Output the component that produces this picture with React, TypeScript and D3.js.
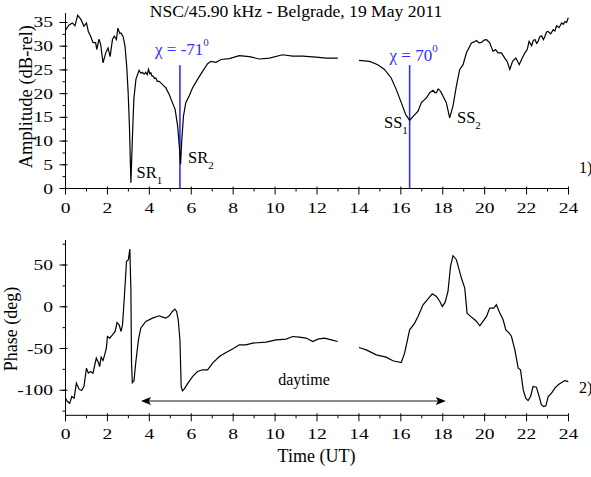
import React from "react";
import * as d3 from "d3";

// ---------- Data ----------
const ampHours1 = [0, 0.17, 0.33, 0.45, 0.58, 0.73, 0.88, 1.0, 1.09, 1.2, 1.31, 1.44, 1.49, 1.6, 1.68, 1.79, 1.92, 2.03, 2.13, 2.24, 2.33, 2.43, 2.5, 2.59, 2.65, 2.75, 2.84, 2.92, 2.99, 3.05, 3.12, 3.19, 3.26, 3.36, 3.51, 3.6, 3.67, 3.75, 3.83, 3.9, 3.96, 4.02, 4.07, 4.13, 4.18, 4.25, 4.31, 4.38, 4.47, 4.63, 4.79, 4.95, 5.1, 5.23, 5.35, 5.43, 5.49, 5.55, 5.63, 5.74, 5.9, 6.06, 6.3, 6.54, 6.78, 6.94, 7.18, 7.42, 7.82, 8.29, 8.77, 9.25, 9.73, 10.36, 10.84, 11.32, 11.96, 12.44, 12.99];
const ampValues1 = [33.4, 34.5, 34.9, 34.3, 36.5, 35.7, 34.2, 34.9, 33.1, 32.1, 30.8, 30.7, 29.3, 31.5, 30.3, 26.5, 28.6, 29.6, 27.8, 31.4, 32.1, 31.4, 33.8, 32.7, 32.8, 32.0, 30.0, 25.8, 20.2, 13.2, 1.2, 10.4, 18.8, 23.0, 24.9, 24.3, 24.5, 24.1, 24.5, 24.0, 25.1, 24.2, 24.4, 23.7, 23.7, 23.2, 23.3, 22.6, 22.6, 21.9, 21.2, 19.8, 18.1, 16.7, 13.2, 8.9, 5.1, 10.4, 15.3, 18.1, 19.5, 21.2, 23.0, 24.7, 26.3, 26.8, 26.6, 27.2, 27.4, 28.0, 27.8, 27.3, 27.5, 28.2, 27.9, 27.9, 27.7, 27.5, 27.5];

const ampHours2 = [14.0, 14.51, 14.9, 15.22, 15.54, 15.78, 16.02, 16.23, 16.42, 16.61, 16.82, 16.98, 17.22, 17.38, 17.54, 17.62, 17.7, 17.78, 17.86, 17.94, 18.01, 18.17, 18.33, 18.49, 18.65, 18.81, 18.97, 19.13, 19.37, 19.5, 19.61, 19.73, 19.85, 19.97, 20.09, 20.24, 20.4, 20.52, 20.64, 20.8, 20.96, 21.07, 21.2, 21.33, 21.49, 21.65, 21.76, 21.92, 22.03, 22.12, 22.24, 22.32, 22.4, 22.48, 22.55, 22.63, 22.72, 22.8, 22.87, 22.95, 23.03, 23.15, 23.27, 23.35, 23.43, 23.55, 23.67, 23.75, 23.83, 23.91, 23.99];
const ampValues2 = [27.0, 26.8, 26.1, 25.1, 23.3, 20.9, 18.1, 15.6, 14.4, 15.3, 16.3, 18.1, 19.1, 20.2, 20.7, 20.2, 20.2, 21.0, 20.7, 20.1, 19.5, 18.1, 14.9, 17.4, 21.6, 25.1, 26.1, 28.6, 30.7, 30.9, 31.2, 30.7, 30.8, 31.3, 31.4, 30.7, 28.9, 29.3, 28.6, 28.6, 27.5, 26.8, 25.1, 26.8, 27.5, 26.1, 27.2, 28.6, 29.3, 31.0, 30.1, 31.2, 31.4, 30.6, 31.0, 32.0, 32.2, 31.4, 32.0, 33.0, 33.1, 32.6, 33.5, 33.2, 34.3, 33.9, 34.9, 34.6, 35.2, 35.0, 36.0];

const phaseHours1 = [0, 0.09, 0.2, 0.3, 0.41, 0.52, 0.65, 0.77, 0.88, 1.0, 1.09, 1.2, 1.31, 1.47, 1.57, 1.63, 1.7, 1.79, 1.89, 1.95, 2.0, 2.11, 2.24, 2.37, 2.46, 2.56, 2.65, 2.72, 2.81, 2.91, 3.0, 3.07, 3.12, 3.15, 3.19, 3.27, 3.35, 3.48, 3.59, 3.83, 4.15, 4.47, 4.63, 4.79, 4.95, 5.1, 5.22, 5.3, 5.38, 5.46, 5.52, 5.58, 5.66, 5.82, 6.06, 6.3, 6.54, 6.78, 7.02, 7.34, 7.66, 7.97, 8.29, 8.61, 8.93, 9.57, 10.05, 10.53, 10.84, 11.16, 11.48, 11.8, 12.04, 12.36, 12.68, 12.99];
const phaseValues1 = [-109.5, -113.5, -115.5, -107.5, -109.5, -91.5, -98.7, -100.3, -95.5, -73.5, -79.5, -77.5, -79.5, -61.5, -66.8, -71.6, -60.3, -64.4, -55.5, -49.5, -35.6, -37.5, -33.6, -29.6, -18.8, -21.6, -29.6, -21.6, 12.4, 54.3, 56.4, 69.2, 20.4, -67.5, -90.8, -88.4, -67.5, -39.6, -25.6, -17.6, -13.6, -10.8, -12.4, -13.6, -10.8, -5.6, -2.8, -5.6, -15.6, -39.6, -95.5, -100.7, -98.7, -92.3, -83.6, -77.6, -75.5, -75.5, -67.5, -59.6, -54.8, -50.7, -45.6, -45.6, -43.5, -42.3, -39.6, -38.7, -35.6, -36.3, -37.5, -41.6, -38.7, -37.5, -39.6, -41.6];

const phaseHours2 = [14.0, 14.35, 14.83, 15.3, 15.62, 16.02, 16.18, 16.42, 16.66, 16.82, 17.06, 17.29, 17.5, 17.7, 17.86, 17.98, 18.11, 18.25, 18.37, 18.49, 18.65, 18.89, 19.05, 19.16, 19.37, 19.53, 19.61, 19.77, 19.92, 20.09, 20.24, 20.43, 20.56, 20.69, 20.88, 21.01, 21.17, 21.28, 21.44, 21.6, 21.71, 21.84, 21.96, 22.07, 22.19, 22.31, 22.47, 22.6, 22.71, 22.82, 22.92, 23.03, 23.19, 23.35, 23.51, 23.67, 23.83, 23.99];
const phaseValues2 = [-48.8, -51.6, -57.6, -60.3, -64.7, -66.8, -55.5, -27.6, -19.6, -11.6, 2.4, 9.2, 15.6, 12.4, 6.4, 0.4, 5.2, 18.3, 48.3, 61.2, 56.4, 34.4, 22.4, -7.6, -12.4, -15.6, -17.6, -22.8, -17.6, -11.6, -1.6, -1.6, 2.4, -5.6, -15.6, -27.6, -31.6, -35.6, -51.6, -73.5, -75.5, -99.5, -109.5, -112.4, -107.5, -95.5, -96.3, -107.5, -117.5, -119.5, -118.7, -107.5, -103.5, -97.5, -93.5, -90.8, -88.4, -89.6];

const xTicks = [0, 2, 4, 6, 8, 10, 12, 14, 16, 18, 20, 22, 24];
const ampTicks = [0, 5, 10, 15, 20, 25, 30, 35];
const phaseTicks = [-100, -50, 0, 50];

const markerHours = [5.46, 16.42];
const markerTop = 26;
const markerLabels = ["-71", "70"];

const daytimeStart = 3.6;
const daytimeEnd = 18.15;

// ---------- Layout ----------
const X0 = 65.5, X1 = 568.5;
const x = d3.scaleLinear().domain([0, 24]).range([X0, X1]);
const yA = d3.scaleLinear().domain([0, 37]).range([188.5, 13]);
const yP = d3.scaleLinear().domain([-130, 80]).range([415.3, 240]);

const FONT = "'Liberation Serif', 'Times New Roman', serif";
const BLUE = "#2f2fff";

function zip(h: number[], v: number[]) {
  return h.map((t, i) => [t, v[i]] as [number, number]);
}

function TickLabel({ tx, ty, anchor, text }: { tx: number; ty: number; anchor: string; text: string }) {
  return (
    <text transform={`translate(${tx},${ty}) scale(1.3,1)`} textAnchor={anchor} fontSize={15} fontFamily={FONT} fill="#000">
      {text}
    </text>
  );
}

function Axes({ y, ticks, minorStep, baseY }: { y: d3.ScaleLinear<number, number>; ticks: number[]; minorStep: number; baseY: number }) {
  const [d0, d1] = y.domain();
  const minors: number[] = [];
  for (let v = Math.ceil(d0 / minorStep) * minorStep; v <= d1 + 1e-9; v += minorStep) minors.push(v);
  const xMinor = d3.range(0, 25, 1);
  return (
    <g stroke="#000" strokeWidth={1}>
      <line x1={X0} x2={X0} y1={y.range()[0]} y2={y.range()[1]} />
      <line x1={X0} x2={X1} y1={baseY} y2={baseY} />
      {minors.map((v) => (
        <line key={"ym" + v} x1={X0 - 3} x2={X0} y1={y(v)} y2={y(v)} />
      ))}
      {ticks.map((v) => (
        <line key={"yt" + v} x1={X0 - 6} x2={X0 + 2} y1={y(v)} y2={y(v)} />
      ))}
      {xMinor.map((v) => (
        <line key={"xm" + v} x1={x(v)} x2={x(v)} y1={baseY} y2={baseY + (v % 2 === 0 ? 6 : 3)} />
      ))}
      {xTicks.map((v) => (
        <line key={"xt" + v} x1={x(v)} x2={x(v)} y1={baseY - 2} y2={baseY} />
      ))}
    </g>
  );
}

export default function App() {
  const lineA = d3.line<[number, number]>().x((d) => x(d[0])).y((d) => yA(d[1]));
  const lineP = d3.line<[number, number]>().x((d) => x(d[0])).y((d) => yP(d[1]));
  const baseA = yA(0);
  const baseP = yP(-130);
  const arrowY = 401;
  const ax0 = x(daytimeStart), ax1 = x(daytimeEnd);

  return (
    <svg width={591} height={477} style={{ position: "absolute", left: 0, top: 0 }}>
      <rect width={591} height={477} fill="#fff" />
      {/* title */}
      <text x={296} y={16.5} textAnchor="middle" fontSize={17.6} fontFamily={FONT}>
        NSC/45.90 kHz - Belgrade, 19 May 2011
      </text>

      {/* top panel */}
      <Axes y={yA} ticks={ampTicks} minorStep={2.5} baseY={baseA} />
      {ampTicks.map((v) => (
        <TickLabel key={"al" + v} tx={53} ty={yA(v) + 5} anchor="end" text={String(v)} />
      ))}
      {xTicks.map((v) => (
        <TickLabel key={"axl" + v} tx={x(v)} ty={baseA + 24.5} anchor="middle" text={String(v)} />
      ))}
      {markerHours.map((h, i) => (
        <line key={"mk" + i} x1={x(h)} x2={x(h)} y1={yA(markerTop)} y2={baseA} stroke={BLUE} strokeWidth={1.6} />
      ))}
      <path d={lineA(zip(ampHours1, ampValues1)) || ""} fill="none" stroke="#000" strokeWidth={1.2} />
      <path d={lineA(zip(ampHours2, ampValues2)) || ""} fill="none" stroke="#000" strokeWidth={1.2} />

      <text x={x(markerHours[0]) + 2} y={55} textAnchor="middle" fontSize={17} fontFamily={FONT} fill={BLUE}>
        χ = {markerLabels[0]}
        <tspan fontSize={11} dy={-9}>0</tspan>
      </text>
      <text x={x(markerHours[1]) + 4} y={61} textAnchor="middle" fontSize={17} fontFamily={FONT} fill={BLUE}>
        χ = {markerLabels[1]}
        <tspan fontSize={11} dy={-9}>0</tspan>
      </text>

      <g fontFamily={FONT} fontSize={16.5} fill="#000">
        <text x={136.5} y={178.3}>SR<tspan fontSize={11} dy={6}>1</tspan></text>
        <text x={188} y={163.3}>SR<tspan fontSize={11} dy={6}>2</tspan></text>
        <text x={384} y={128}>SS<tspan fontSize={11} dy={6}>1</tspan></text>
        <text x={457} y={123.3}>SS<tspan fontSize={11} dy={6}>2</tspan></text>
      </g>
      <text x={579} y={173} fontSize={16} fontFamily={FONT}>1)</text>

      <text transform={`translate(32,${96.7}) rotate(-90)`} textAnchor="middle" fontSize={18.5} fontFamily={FONT}>
        Amplitude (dB-rel)
      </text>

      {/* bottom panel */}
      <Axes y={yP} ticks={phaseTicks} minorStep={25} baseY={baseP} />
      {phaseTicks.map((v) => (
        <TickLabel key={"pl" + v} tx={53} ty={yP(v) + 5} anchor="end" text={String(v)} />
      ))}
      {xTicks.map((v) => (
        <TickLabel key={"pxl" + v} tx={x(v)} ty={baseP + 24} anchor="middle" text={String(v)} />
      ))}
      <path d={lineP(zip(phaseHours1, phaseValues1)) || ""} fill="none" stroke="#000" strokeWidth={1.2} />
      <path d={lineP(zip(phaseHours2, phaseValues2)) || ""} fill="none" stroke="#000" strokeWidth={1.2} />

      <line x1={ax0 + 8} x2={ax1 - 8} y1={arrowY} y2={arrowY} stroke="#666" strokeWidth={1.5} />
      <path d={`M${ax0},${arrowY} L${ax0 + 10},${arrowY - 4} L${ax0 + 8},${arrowY} L${ax0 + 10},${arrowY + 4} Z`} fill="#000" />
      <path d={`M${ax1},${arrowY} L${ax1 - 10},${arrowY - 4} L${ax1 - 8},${arrowY} L${ax1 - 10},${arrowY + 4} Z`} fill="#000" />
      <text x={304} y={385} textAnchor="middle" fontSize={16} fontFamily={FONT}>daytime</text>
      <text x={579} y={393} fontSize={16} fontFamily={FONT}>2)</text>

      <text transform={`translate(17,329) rotate(-90)`} textAnchor="middle" fontSize={18} fontFamily={FONT}>
        Phase (deg)
      </text>
      <text x={316.5} y={462} textAnchor="middle" fontSize={18} fontFamily={FONT}>
        Time (UT)
      </text>
    </svg>
  );
}
